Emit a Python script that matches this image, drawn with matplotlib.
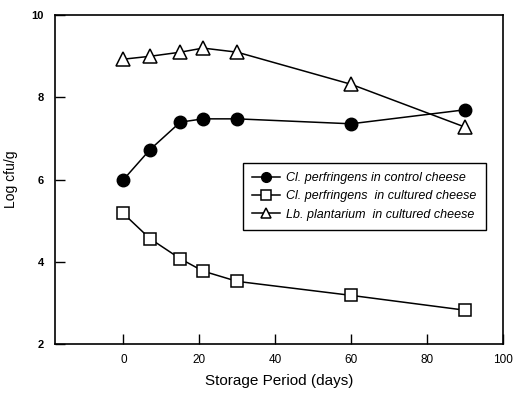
import matplotlib.pyplot as plt

plt.rcParams['font.family'] = ['Liberation Sans', 'DejaVu Sans']

days = [0, 7, 15, 21, 30, 60, 90]
control = [6.0, 6.73, 7.4, 7.48, 7.48, 7.36, 7.7]
cultured = [5.18, 4.57, 4.08, 3.78, 3.53, 3.19, 2.83]
plantarum = [8.93, 9.0, 9.1, 9.2, 9.1, 8.32, 7.28]

labels = ["Cl. perfringens in control cheese",
          "Cl. perfringens  in cultured cheese",
          "Lb. plantarium  in cultured cheese"]

fig = plt.figure(figsize=(5.19, 3.99), dpi=100)
ax = fig.add_axes([0.106, 0.137, 0.863, 0.825])

ax.plot(days, control, 'k-', marker='o', ms=9, mfc='black', mec='black', lw=1.1, label=labels[0])
ax.plot(days, cultured, 'k-', marker='s', ms=9, mfc='white', mec='black', mew=1.1, lw=1.1, label=labels[1])
ax.plot(days, plantarum, 'k-', marker='^', ms=10, mfc='white', mec='black', mew=1.1, lw=1.1, label=labels[2])

ax.set_xlim(-18, 100)
ax.set_ylim(2, 10)
ax.set_xticks([0, 20, 40, 60, 80, 100])
ax.set_yticks([2, 4, 6, 8, 10])
ax.tick_params(axis='x', direction='in', length=7, width=1, labelsize=8.5, pad=7)
ax.tick_params(axis='y', direction='in', length=7, width=1, labelsize=8, pad=8)
for lab in ax.get_yticklabels():
    lab.set_fontweight('bold')
for s in ax.spines.values():
    s.set_linewidth(1.2)

ax.set_xlabel("Storage Period (days)", fontsize=11, labelpad=6)
ax.set_ylabel("Log cfu/g", fontsize=10, labelpad=10)

leg = ax.legend(loc='upper left', bbox_to_anchor=(0.405, 0.571), fancybox=False,
                edgecolor='black', framealpha=1, handlelength=2.2, borderpad=0.75,
                labelspacing=0.5, handletextpad=0.5,
                prop={'style': 'italic', 'size': 9})
leg.get_frame().set_linewidth(1.0)
for h in leg.legend_handles:
    h.set_markersize(7)

fig.savefig("out.png", dpi=100)
